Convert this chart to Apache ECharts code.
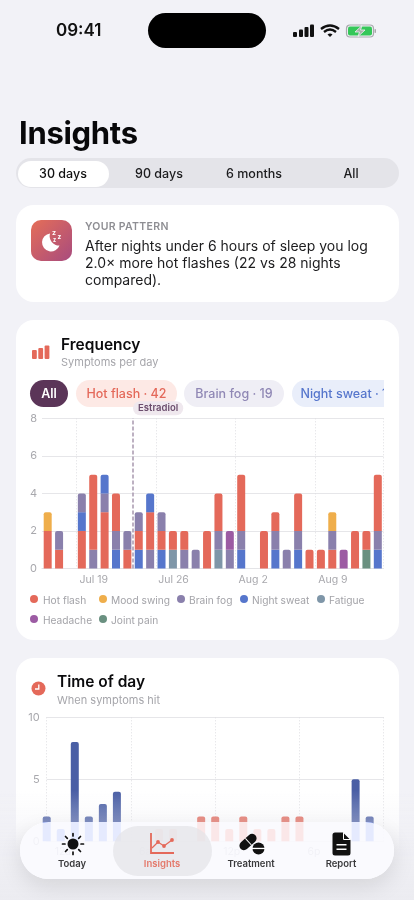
<!DOCTYPE html>
<html>
<head>
<meta charset="utf-8">
<title>Insights</title>
<script src="https://cdn.jsdelivr.net/npm/echarts@6/dist/echarts.min.js"></script>
<style>
  html, body { margin: 0; padding: 0; width: 414px; height: 900px; overflow: hidden; background: #f2f2f7; font-family: Inter, "Noto Sans", sans-serif; color: #000; }
  .abs { position: absolute; white-space: nowrap; }
  .card { position: absolute; left: 16px; width: 383px; background: #fff; border-radius: 18px; }
  .seg { top: 167px; font-size: 12.5px; font-weight: 500; line-height: 14px; transform: translateX(-50%); color: #1c1c1e; }
  .h2 { font-size: 15.5px; font-weight: 600; line-height: 20px; color: #0b0b0d; }
  .sub { font-size: 11px; line-height: 14px; color: #a6a6ab; }
  .chip { top: 380px; height: 27px; line-height: 27px; border-radius: 14px; font-size: 12.5px; font-weight: 500; text-align: center; }
  .lg { font-size: 10.2px; line-height: 14px; color: #a3a3a8; }
  .dot { position: absolute; width: 8px; height: 8px; border-radius: 50%; }
  .navt { top: 858px; font-size: 9.5px; font-weight: 600; line-height: 12px; transform: translateX(-50%); color: #3a3a3c; }
</style>
</head>
<body>

<!-- status bar -->
<div class="abs" style="left:56px;top:20px;font-size:17px;font-weight:600;line-height:21px;color:#111">09:41</div>
<div class="abs" style="left:148px;top:13px;width:118px;height:35px;border-radius:18px;background:#000"></div>
<svg class="abs" style="left:293px;top:24px" width="84" height="14" viewBox="0 0 84 14">
  <rect x="0" y="8" width="4" height="5" rx="1" fill="#111"/><rect x="6" y="5.5" width="4" height="7.5" rx="1" fill="#111"/>
  <rect x="11.500" y="3" width="4" height="10" rx="1" fill="#111"/><rect x="17" y="0.500" width="4" height="12.5" rx="1" fill="#111"/>
  <path d="M28 5 Q37 -2 46 5 M31 8 Q37 3 43 8" stroke="#111" stroke-width="2.300" fill="none"/><path d="M34.500 10.500 Q37 8.500 39.500 10.500 L37 13 Z" fill="#111"/>
  <rect x="53.500" y="1" width="27" height="12" rx="3.500" fill="none" stroke="#a9a9ad" stroke-width="1.200"/>
  <rect x="55" y="2.500" width="24" height="9" rx="2" fill="#35c759"/><rect x="81.500" y="5" width="1.500" height="4" rx="0.700" fill="#a9a9ad"/>
  <path d="M69 1.500 L62 8 H66.500 L65 12.500 L72 6 H67.500 Z" fill="#a8b0a8" stroke="#f2f2f7" stroke-width="0.800"/>
</svg>

<div class="abs" style="left:19px;top:113px;font-size:31px;font-weight:700;line-height:40px;color:#08080a;letter-spacing:-0.300px">Insights</div>

<!-- range picker -->
<div class="abs" style="left:16px;top:158px;width:383px;height:30px;border-radius:15px;background:#e4e4e9"></div>
<div class="abs" style="left:18px;top:160.500px;width:91px;height:26px;border-radius:13px;background:#fff"></div>
<div class="abs seg" style="left:63px;color:#111">30 days</div>
<div class="abs seg" style="left:159px">90 days</div>
<div class="abs seg" style="left:254px">6 months</div>
<div class="abs seg" style="left:351px">All</div>

<!-- pattern card -->
<div class="card" style="top:205px;height:97px"></div>
<div class="abs" style="left:31px;top:220px;width:41px;height:41px;border-radius:10px;background:linear-gradient(135deg,#e56e58,#a84b7e)"></div>
<svg class="abs" style="left:31px;top:220px" width="41" height="41" viewBox="0 0 41 41">
  <path d="M19 13.500 A9 9 0 1 0 28.500 25.500 A9.500 9.500 0 0 1 19 13.500 Z" fill="#fff"/>
  <text x="21" y="15" font-size="7" font-weight="700" fill="#fff">z</text><text x="26.500" y="19" font-size="6.500" font-weight="700" fill="#fff">z</text><text x="22" y="22" font-size="5.500" font-weight="700" fill="#fff">z</text>
</svg>
<div class="abs" style="left:85px;top:219.500px;font-size:10.500px;font-weight:600;line-height:14px;color:#8e8e93;letter-spacing:0.300px">YOUR PATTERN</div>
<div class="abs" style="left:85px;top:236.500px;font-size:14px;line-height:17px;color:#1c1c1e">After nights under 6 hours of sleep you log<br>2.0× more hot flashes (22 vs 28 nights<br>compared).</div>

<!-- frequency card -->
<div class="card" style="top:320px;height:320px"></div>
<svg class="abs" style="left:32px;top:345px" width="18" height="14" viewBox="0 0 18 14">
  <rect x="0" y="5" width="4.800" height="9" rx="1" fill="#e4695a"/><rect x="6.300" y="3" width="4.800" height="11" rx="1" fill="#e4695a"/><rect x="12.600" y="0.500" width="4.800" height="13.500" rx="1" fill="#e4695a"/>
</svg>
<div class="abs h2" style="left:61px;top:335px">Frequency</div>
<div class="abs sub" style="left:61px;top:355px">Symptoms per day</div>

<div class="abs" style="left:0;top:0;width:384px;height:410px;overflow:hidden;clip-path:inset(0 0 0 0)">
  <div class="abs chip" style="left:30px;width:38px;background:#5b3558;color:#fff;font-weight:600">All</div>
  <div class="abs chip" style="left:76px;width:101px;background:#fde9e5;color:#e4695a">Hot flash · 42</div>
  <div class="abs chip" style="left:184px;width:100px;background:#efeef5;color:#9088b5">Brain fog · 19</div>
  <div class="abs chip" style="left:292px;width:112px;background:#e9eefa;color:#5676cc">Night sweat · 14</div>
</div>

<div id="freqChart" class="abs" style="left:16px;top:395px;width:383px;height:195px"></div>

<span class="dot" style="left:30px;top:595px;background:#e4695a"></span><div class="abs lg" style="left:43px;top:592.500px">Hot flash</div>
<span class="dot" style="left:99px;top:595px;background:#efae4b"></span><div class="abs lg" style="left:111px;top:592.500px">Mood swing</div>
<span class="dot" style="left:177px;top:595px;background:#8a80ac"></span><div class="abs lg" style="left:189px;top:592.500px">Brain fog</div>
<span class="dot" style="left:240px;top:595px;background:#5676cc"></span><div class="abs lg" style="left:252px;top:592.500px">Night sweat</div>
<span class="dot" style="left:317px;top:595px;background:#7f96a8"></span><div class="abs lg" style="left:329px;top:592.500px">Fatigue</div>
<span class="dot" style="left:30px;top:615px;background:#9c5ba3"></span><div class="abs lg" style="left:43px;top:612.500px">Headache</div>
<span class="dot" style="left:99px;top:615px;background:#6a9080"></span><div class="abs lg" style="left:111px;top:612.500px">Joint pain</div>

<!-- time of day card -->
<div class="card" style="top:658px;height:260px"></div>
<svg class="abs" style="left:31px;top:681px" width="15" height="15" viewBox="0 0 15 15">
  <circle cx="7.500" cy="7.500" r="7" fill="#e4695a"/><path d="M7.800 3.500 V8 H4" stroke="#fff" stroke-width="1.300" fill="none"/>
</svg>
<div class="abs h2" style="left:57px;top:672px">Time of day</div>
<div class="abs sub" style="left:57px;top:693px">When symptoms hit</div>
<div id="timeChart" class="abs" style="left:16px;top:707px;width:383px;height:165px"></div>

<!-- fade + tab bar, the fade has a hole where the bar sits so bars show evenly through it -->
<div class="abs" style="left:0;top:790px;width:414px;height:110px;background:linear-gradient(to bottom,rgba(242,242,247,0) 0,rgba(240,240,245,.32) 29%,rgba(238,238,243,.92) 55%,#ececf1 100%);clip-path:path(evenodd,'M0 0H414V110H0Z M48.500 32H365.500A28.500 28.500 0 0 1 365.500 89H48.500A28.500 28.500 0 0 1 48.500 32Z')"></div>
<div class="abs" style="left:20px;top:822px;width:374px;height:57px;border-radius:29px;background:rgba(250,250,254,.9);backdrop-filter:saturate(2.5);box-shadow:0 8px 22px rgba(0,0,0,.1)"></div>
<div class="abs" style="left:113px;top:826px;width:99px;height:50px;border-radius:25px;background:rgba(228,228,232,.75)"></div>

<svg class="abs" style="left:60px;top:832px" width="26" height="26" viewBox="0 0 26 26">
  <circle cx="13" cy="12" r="5.500" fill="#111"/>
  <path d="M13 1.500 V4 M13 20 V22.500 M2.500 12 H5 M21 12 H23.500 M5.500 4.500 L7.300 6.300 M18.700 17.700 L20.500 19.500 M5.500 19.500 L7.300 17.700 M18.700 6.300 L20.500 4.500" stroke="#111" stroke-width="1.700" stroke-linecap="round"/>
</svg>
<svg class="abs" style="left:149px;top:832px" width="26" height="24" viewBox="0 0 26 24">
  <path d="M2 1 V21 H25" stroke="#e4695a" stroke-width="1.800" fill="none"/>
  <path d="M3 16 L9 10 L15 14 L23 8" stroke="#e4695a" stroke-width="1.300" fill="none"/>
  <circle cx="9" cy="10" r="1.900" fill="#e4695a"/><circle cx="15" cy="14" r="1.900" fill="#e4695a"/><circle cx="23" cy="8" r="1.900" fill="#e4695a"/>
</svg>
<svg class="abs" style="left:238px;top:832px" width="28" height="24" viewBox="0 0 28 24">
  <g transform="rotate(-42 10 10)"><rect x="0" y="5.500" width="20" height="9" rx="4.500" fill="#111"/><rect x="10" y="5.500" width="1" height="9" fill="#fff"/></g>
  <circle cx="20.500" cy="16.500" r="6" fill="#111"/><rect x="14" y="15.800" width="13" height="1.300" fill="#fff"/>
</svg>
<svg class="abs" style="left:332px;top:832px" width="19" height="24" viewBox="0 0 19 24">
  <path d="M3 0.500 H11 L18.500 8 V21 A2.500 2.500 0 0 1 16 23.500 H3 A2.500 2.500 0 0 1 0.500 21 V3 A2.500 2.500 0 0 1 3 0.500 Z" fill="#111"/>
  <path d="M11.500 0.500 V7.500 H18.500" stroke="#fff" stroke-width="1" fill="none"/>
  <rect x="4.500" y="12" width="10" height="1.500" fill="#fff"/><rect x="4.500" y="16.500" width="10" height="1.500" fill="#fff"/>
</svg>
<div class="abs navt" style="left:72px">Today</div>
<div class="abs navt" style="left:162px;color:#e4796b">Insights</div>
<div class="abs navt" style="left:251px">Treatment</div>
<div class="abs navt" style="left:341px">Report</div>

<script>
// 30 days, one entry per day
var dates = ['Jul 16','Jul 17','Jul 18','Jul 19','Jul 20','Jul 21','Jul 22','Jul 23','Jul 24','Jul 25',
  'Jul 26','Jul 27','Jul 28','Jul 29','Jul 30','Jul 31','Aug 1','Aug 2','Aug 3','Aug 4',
  'Aug 5','Aug 6','Aug 7','Aug 8','Aug 9','Aug 10','Aug 11','Aug 12','Aug 13','Aug 14'];
var dateTicks = ['Jul 19','Jul 26','Aug 2','Aug 9'];
var estradiolDay = 'Jul 24';

var hotFlash  = [2,1,0,2,4,3,2,1,1,2,1,1,1,0,2,2,0,3,0,2,1,0,2,1,1,1,0,2,1,3];
var moodSwing = [1,0,0,0,0,0,0,0,0,0,0,0,0,0,0,0,0,0,0,0,0,0,0,0,0,1,0,0,0,0];
var brainFog  = [0,1,0,1,1,1,1,1,1,1,1,0,1,1,0,1,1,1,0,0,1,1,1,0,0,1,0,0,0,1];
var nightSweat= [0,0,0,1,0,1,1,0,1,1,1,0,0,0,0,0,0,1,0,0,1,0,1,0,0,0,0,0,0,1];
var fatigue   = [0,0,0,0,0,0,0,0,0,0,0,1,0,0,0,1,0,0,0,0,0,0,0,0,0,0,0,0,0,0];
var headache  = [0,0,0,0,0,0,0,0,0,0,0,0,0,0,0,0,1,0,0,0,0,0,0,0,0,0,1,0,0,0];
var jointPain = [0,0,0,0,0,0,0,0,0,0,0,0,0,0,0,0,0,0,0,0,0,0,0,0,0,0,0,0,1,0];

// which symptom sits where in each day's stack, bottom to top
var dayOrder = ['HM','HB','','HNB','BH','HBN','NBH','HB','NHB','BHN',
  'NHB','FH','BH','B','H','FBH','BA','NBH','','H',
  'NBH','B','NBH','H','H','HBM','A','H','JH','NBH'];

var symptomValues = { H: hotFlash, M: moodSwing, B: brainFog, N: nightSweat, F: fatigue, A: headache, J: jointPain };
var symptomColors = { H: '#e4695a', M: '#efae4b', B: '#8a80ac', N: '#5676cc', F: '#7f96a8', A: '#9c5ba3', J: '#6a9080' };

// time of day, 24 hours
var hours = [0,1,2,3,4,5,6,7,8,9,10,11,12,13,14,15,16,17,18,19,20,21,22,23];
var nightCounts = [2,1,8,2,3,4,0,0,0,0,0,0,0,0,0,0,0,0,0,0,0,0,5,2];
var dayCounts   = [0,0,0,0,0,0,0,0,1,1,0,2,2,1,2,1,1,2,2,0,0,0,0,0];
var hourTicks = { 0: '12a', 6: '6a', 12: '12p', 18: '6p' };

var axisGrey = '#a8a8ad';
var chartFont = 'Inter';

function stackLayers() {
  var layers = [];
  for (var l = 0; l < 3; l++) {
    layers.push({
      type: 'bar', stack: 'day', barWidth: 8, silent: true,
      data: dates.map(function (d, i) {
        var key = dayOrder[i][l];
        if (!key) return { value: 0, itemStyle: { color: 'transparent' } };
        return {
          value: symptomValues[key][i],
          itemStyle: {
            color: symptomColors[key],
            borderRadius: l === dayOrder[i].length - 1 ? [2, 2, 0, 0] : 0
          }
        };
      })
    });
  }
  return layers;
}

var freqChart = echarts.init(document.getElementById('freqChart'));
freqChart.setOption({
  animation: false,
  textStyle: { fontFamily: chartFont },
  grid: { left: 26, right: 15.5, top: 23.3, height: 150.2 },
  xAxis: [{
    type: 'category', data: dates, boundaryGap: true,
    axisLine: { lineStyle: { color: '#e4e4e7' } },
    axisTick: { show: false },
    axisLabel: {
      color: axisGrey, fontSize: 10.5, margin: 6, align: 'center',
      padding: [0, 0, 0, 24],
      interval: function (i, v) { return dateTicks.indexOf(v) >= 0; }
    },
    splitLine: {
      show: true,
      interval: function (i, v) { return dateTicks.indexOf(v) >= 0; },
      lineStyle: { color: '#dedee2', type: [1, 2] }
    }
  }, {
    // hidden day scale, used to put the estradiol marker on a day's leading edge
    type: 'value', show: false, min: 0, max: dates.length
  }],
  yAxis: {
    type: 'value', min: 0, max: 8, interval: 2,
    axisLine: { show: false }, axisTick: { show: false },
    axisLabel: { color: axisGrey, fontSize: 11, margin: 5 },
    splitLine: { lineStyle: { color: '#e6e6e9' } }
  },
  series: stackLayers().concat([{
    type: 'line', xAxisIndex: 1, data: [], silent: true, symbol: 'none',
    markLine: {
      silent: true, symbol: 'none', animation: false,
      lineStyle: { color: '#a898ae', type: [4, 2], width: 1.5 },
      label: {
        show: true, position: 'end', formatter: 'Estradiol', distance: 3,
        align: 'left', offset: [0, 0],
        color: '#6b4d6d', fontSize: 9.500, fontWeight: 600,
        backgroundColor: '#efe8ee', borderRadius: 7, padding: [2, 5]
      },
      data: [{ xAxis: dates.indexOf(estradiolDay) }]
    }
  }])
});

var timeChart = echarts.init(document.getElementById('timeChart'));
function hourSeries(counts, color) {
  return {
    type: 'bar', barWidth: 8, barGap: '-100%', clip: false, silent: true,
    itemStyle: { color: color, borderRadius: [2, 2, 0, 0] },
    data: hours.map(function (h, i) { return [h, counts[i]]; })
  };
}
timeChart.setOption({
  animation: false,
  textStyle: { fontFamily: chartFont },
  grid: { left: 30.7, right: 15.3, top: 10.3, height: 124 },
  xAxis: {
    type: 'value', min: 0, max: 24, interval: 6,
    axisLine: { lineStyle: { color: '#e4e4e7' } },
    axisTick: { show: false },
    axisLabel: {
      color: axisGrey, fontSize: 10.5, margin: 5, align: 'left',
      padding: [0, 0, 0, 8],
      formatter: function (v) { return hourTicks[v] || ''; }
    },
    splitLine: { show: true, lineStyle: { color: '#dedee2', type: [1, 2] } }
  },
  yAxis: {
    type: 'value', min: 0, max: 10, interval: 5,
    axisLine: { show: false }, axisTick: { show: false },
    axisLabel: { color: axisGrey, fontSize: 11, margin: 7 },
    splitLine: { lineStyle: { color: '#e6e6e9' } }
  },
  series: [hourSeries(nightCounts, '#4a5fa5'), hourSeries(dayCounts, '#e4695a')]
});
</script>
</body>
</html>
